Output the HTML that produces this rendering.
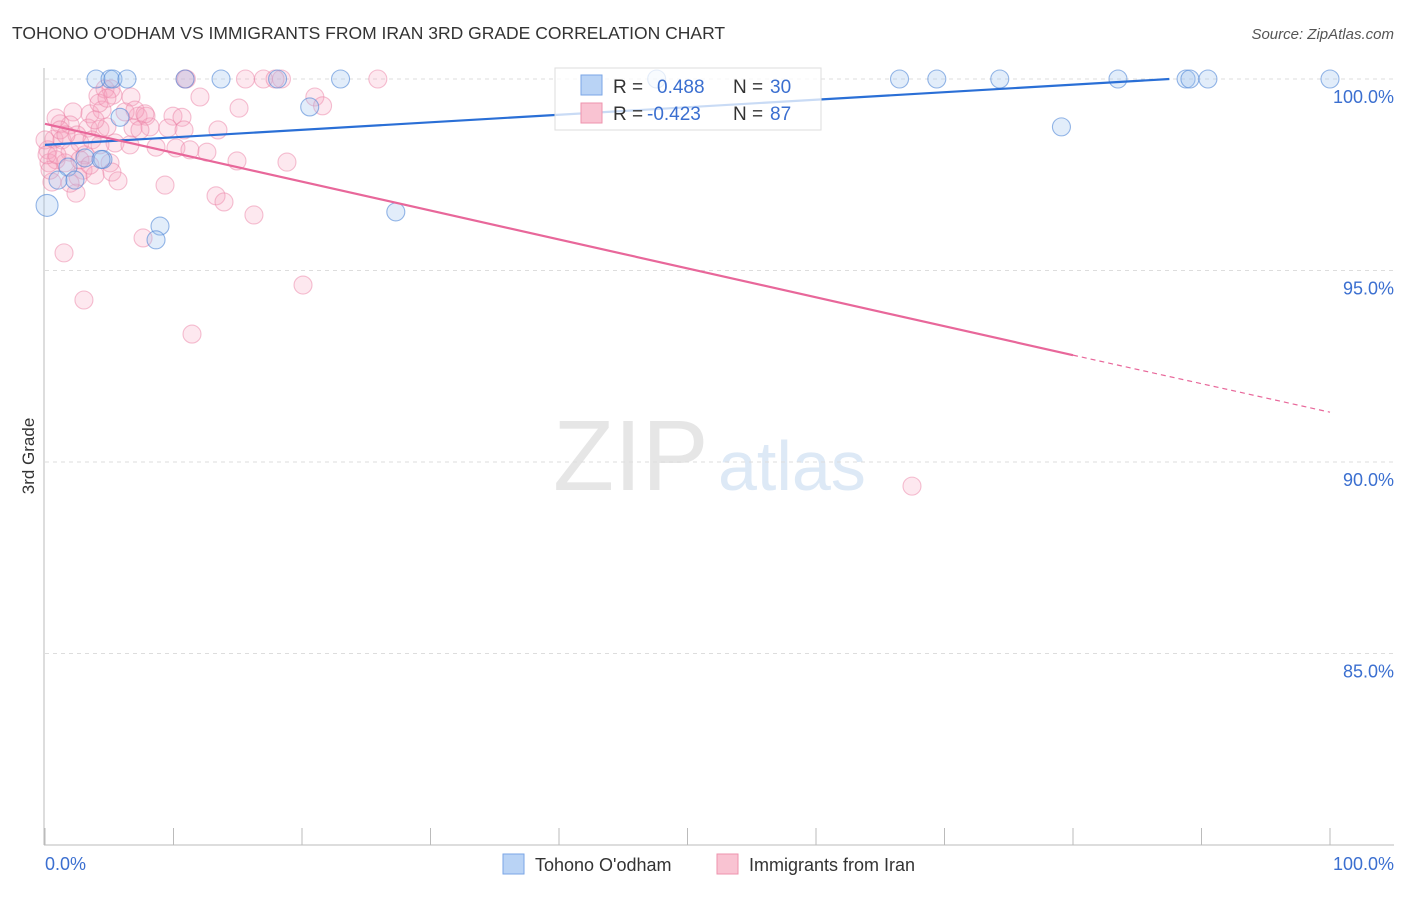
<!DOCTYPE html>
<html><head><meta charset="utf-8"><style>
body{margin:0;background:#fff;font-family:"Liberation Sans",sans-serif;}
svg text{font-family:"Liberation Sans",sans-serif;}
</style></head><body>
<svg id="chart" width="1406" height="892" xmlns="http://www.w3.org/2000/svg">
<text x="12" y="39" font-size="17.5" fill="#333">TOHONO O'ODHAM VS IMMIGRANTS FROM IRAN 3RD GRADE CORRELATION CHART</text>
<text x="1394" y="39" font-size="15" fill="#555" font-style="italic" text-anchor="end">Source: ZipAtlas.com</text>
<text x="553" y="490" font-size="100" fill="#e6e6e6" font-family="Liberation Serif">ZIP</text>
<text x="718" y="490" font-size="70" fill="#dde9f6">atlas</text>
<g id="grid"></g>
<g id="axes"></g>
<g id="pts"></g>
<g id="lines"></g>
<g>
<rect x="555" y="68" width="266" height="62" fill="rgba(255,255,255,0.75)" stroke="#ddd"/>
<rect x="581" y="75" width="21" height="20" fill="#b9d3f5" stroke="#7aa6e6"/>
<rect x="581" y="103" width="21" height="20" fill="#f9c3d2" stroke="#ee93ad"/>
<text x="613" y="93" font-size="19" fill="#333">R = </text><text x="657" y="93" font-size="19" fill="#3b6fd0">0.488</text>
<text x="733" y="93" font-size="19" fill="#333">N = </text><text x="770" y="93" font-size="19" fill="#3b6fd0">30</text>
<text x="613" y="120" font-size="19" fill="#333">R = </text><text x="647" y="120" font-size="19" fill="#3b6fd0">-0.423</text>
<text x="733" y="120" font-size="19" fill="#333">N = </text><text x="770" y="120" font-size="19" fill="#3b6fd0">87</text>
</g>
<text x="34" y="456" font-size="17" fill="#333" transform="rotate(-90 34 456)" text-anchor="middle">3rd Grade</text>
<text x="45" y="870" font-size="18" fill="#3b6fd0">0.0%</text>
<text x="1394" y="870" font-size="18" fill="#3b6fd0" text-anchor="end">100.0%</text>
<g>
<rect x="503" y="854" width="21" height="20" fill="#b9d3f5" stroke="#7aa6e6"/>
<text x="535" y="871" font-size="18" fill="#333">Tohono O'odham</text>
<rect x="717" y="854" width="21" height="20" fill="#f9c3d2" stroke="#ee93ad"/>
<text x="749" y="871" font-size="18" fill="#333">Immigrants from Iran</text>
</g>
</svg>
<script>
const yTicks=[100,95,90,85];
const xTicks=[0,10,20,30,40,50,60,70,80,90,100];
const blueX=[3.97,5.06,5.29,6.38,10.9,13.7,18.1,23.0,47.6,66.5,69.4,74.3,83.5,88.8,89.1,90.5,100,20.6,79.1,5.84,1.79,1.01,2.33,4.51,0.16,8.95,8.64,27.3,3.11,4.36];
const blueY=[100,100,100,100,100,100,100,100,100,100,100,100,100,100,100,100,100,99.27,98.75,99.0,97.7,97.36,97.36,97.9,96.7,96.16,95.8,96.53,97.94,97.9];
const pinkX=[10.9,15.6,17.0,18.4,17.9,25.9,11.0,4.67,5.14,4.12,5.29,6.69,12.06,21.0,21.6,15.1,2.18,3.5,7.24,7.86,9.96,10.66,1.17,1.95,3.35,4.28,4.82,6.85,8.17,9.57,10.82,13.46,0.7,1.32,2.72,5.45,8.64,10.19,11.28,12.6,0.23,1.95,3.11,5.06,14.94,18.83,0.86,1.56,5.21,2.96,5.68,3.89,2.57,0.54,9.34,13.31,13.93,16.26,2.41,1.48,7.63,3.03,20.08,11.44,67.47,0.31,0.39,0.86,1.17,2.49,1.63,3.66,4.28,0,0.16,0.93,4.44,4.2,6.23,7.0,2.72,3.89,1.95,4.82,7.78,3.5,7.39,6.61];
const pinkY=[100,100,100,100,100,100,100,99.74,99.74,99.56,99.58,99.53,99.53,99.53,99.3,99.24,99.14,99.09,99.03,99.03,99.03,99.0,98.83,98.8,98.72,98.69,98.75,98.72,98.75,98.72,98.67,98.67,98.43,98.41,98.33,98.33,98.22,98.2,98.15,98.09,98.15,98.09,98.02,97.81,97.86,97.83,97.89,97.81,97.57,97.62,97.34,97.49,97.44,97.31,97.23,96.95,96.79,96.45,97.02,95.46,95.85,94.23,94.62,93.34,89.37,97.81,97.62,98.98,98.67,98.54,98.54,98.41,98.28,98.41,98.02,98.02,99.19,99.37,99.14,99.19,97.89,98.93,97.28,99.5,99.09,97.75,98.67,98.28];
const blueFit=[98.28,100.0];
const blueFitX=[0,87.5];
const pinkFit=[98.83,92.79,91.3];
const pinkFitX=[0,80,100];
const X=v=>45+v*12.85, Y=v=>79+(100-v)*38.3;
const NS='http://www.w3.org/2000/svg';
function mk(t,a,p){const e=document.createElementNS(NS,t);for(const k in a)e.setAttribute(k,a[k]);p.appendChild(e);return e;}
const grid=document.getElementById('grid'),axes=document.getElementById('axes'),pts=document.getElementById('pts'),lines=document.getElementById('lines');
yTicks.forEach(t=>{
 const l=mk('line',{x1:45,x2:1394,y1:Y(t),y2:Y(t),stroke:'#ddd','stroke-dasharray':'4,4'},grid);
 
 
 const tx=mk('text',{x:1394,y:Y(t)+24,'font-size':18,fill:'#3b6fd0','text-anchor':'end'},axes);
 tx.textContent=t.toFixed(1)+'%';
 
 
});
const ya=mk('line',{x1:44,x2:44,y1:68,y2:845,stroke:'#bbb'},axes);


const xa=mk('line',{x1:44,x2:1394,y1:845,y2:845,stroke:'#bbb'},axes);


xTicks.forEach(t=>{
 const l=mk('line',{x1:X(t),x2:X(t),y1:828,y2:845,stroke:'#bbb'},axes);
 
 
});
pinkX.forEach((x,i)=>{
 const c=mk('circle',{cx:X(x),cy:Y(pinkY[i]),r:9,fill:'rgba(246,165,190,0.25)',stroke:'rgba(236,130,165,0.5)','stroke-width':1.1},pts);
 
 
});
blueX.forEach((x,i)=>{
 const c=mk('circle',{cx:X(x),cy:Y(blueY[i]),r:i==24?11:9,fill:'rgba(160,195,240,0.3)',stroke:'rgba(80,135,215,0.6)','stroke-width':1.1},pts);
 
 
});
const bl=mk('line',{x1:X(blueFitX[0]),y1:Y(blueFit[0]),x2:X(blueFitX[1]),y2:Y(blueFit[1]),stroke:'#2a6fd6','stroke-width':2.2},lines);


const pl=mk('line',{x1:X(pinkFitX[0]),y1:Y(pinkFit[0]),x2:X(pinkFitX[1]),y2:Y(pinkFit[1]),stroke:'#e8679a','stroke-width':2.2},lines);


const pd=mk('line',{x1:X(pinkFitX[1]),y1:Y(pinkFit[1]),x2:X(pinkFitX[2]),y2:Y(pinkFit[2]),stroke:'#e8679a','stroke-width':1.2,'stroke-dasharray':'5,4'},lines);


</script>
</body></html>
